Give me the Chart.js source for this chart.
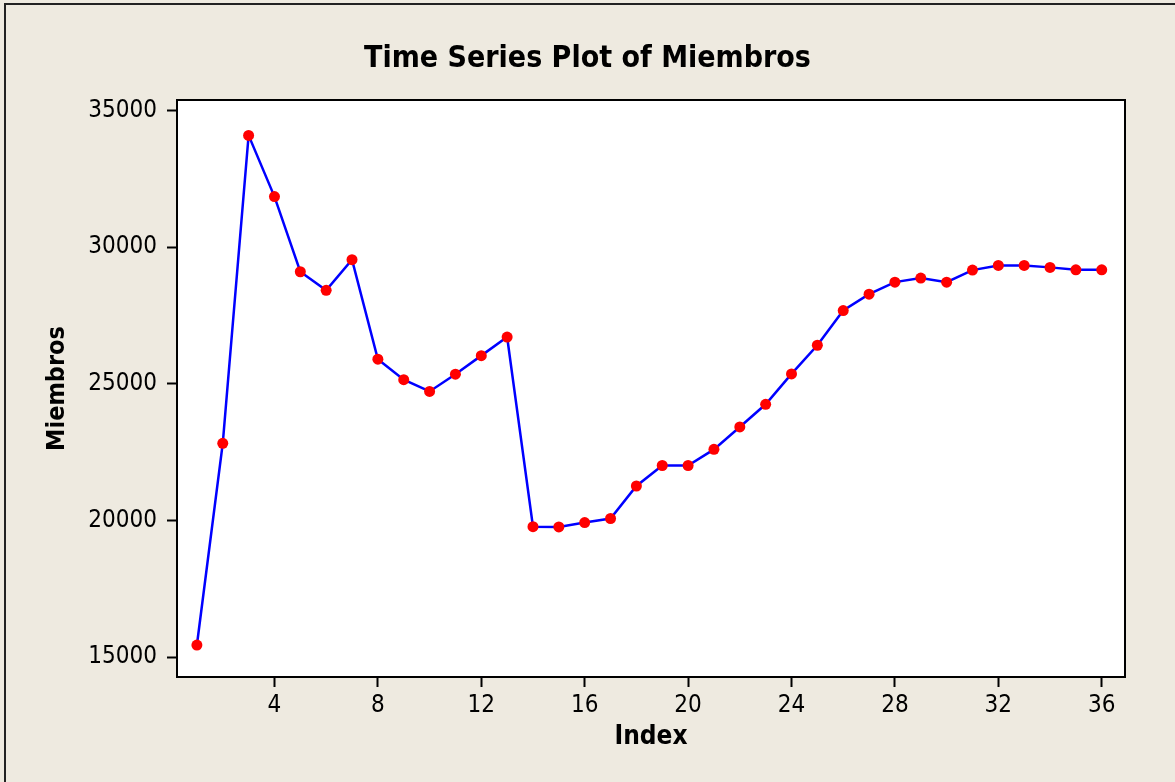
<!DOCTYPE html>
<html>
<head>
<meta charset="utf-8">
<title>Time Series Plot of Miembros</title>
<script src="https://cdn.jsdelivr.net/npm/chart.js@4/dist/chart.umd.min.js"></script>
<style>
  html, body { margin: 0; padding: 0; background: #eeeae0; }
  canvas { display: block; }
</style>
</head>
<body>
<canvas id="tsChart" width="1175" height="782"></canvas>
<script>
// data
const indexes = [1,2,3,4,5,6,7,8,9,10,11,12,13,14,15,16,17,18,19,20,21,22,23,24,25,26,27,28,29,30,31,32,33,34,35,36];
const miembros = [15440, 22820, 34090, 31850, 29100, 28420, 29540, 25900, 25150, 24720, 25350, 26030,
                  26710, 19770, 19760, 19920, 20070, 21260, 22010, 22010, 22600, 23420, 24250, 25360,
                  26410, 27680, 28280, 28720, 28870, 28720, 29160, 29330, 29330, 29260, 29170, 29170];
const xTicks = [4, 8, 12, 16, 20, 24, 28, 32, 36];
const yTicks = [15000, 20000, 25000, 30000, 35000];

const fam = '"DejaVu Sans Condensed", "DejaVu Sans", sans-serif';
const tickFont = { family: fam, size: 24 };

// gray page, outer frame, white plot area with black box
const framePlugin = {
  id: 'frame',
  beforeDraw(chart) {
    const c = chart.ctx, a = chart.chartArea;
    c.save();
    c.fillStyle = '#eeeae0';
    c.fillRect(0, 0, chart.width, chart.height);
    c.strokeStyle = '#222';
    c.lineWidth = 2;
    c.beginPath();
    c.moveTo(5, chart.height);
    c.lineTo(5, 4);
    c.lineTo(chart.width, 4);
    c.stroke();
    c.fillStyle = '#fff';
    c.fillRect(a.left, a.top, a.right - a.left, a.bottom - a.top);
    c.restore();
  },
  afterDraw(chart) {
    const c = chart.ctx, a = chart.chartArea;
    c.save();
    c.strokeStyle = '#000';
    c.lineWidth = 2;
    c.strokeRect(a.left, a.top, a.right - a.left, a.bottom - a.top);
    c.restore();
  }
};

new Chart(document.getElementById('tsChart'), {
  type: 'scatter',
  data: {
    datasets: [{
      label: 'Miembros',
      data: indexes.map((x, i) => ({ x: x, y: miembros[i] })),
      showLine: true,
      borderColor: '#0000ff',
      borderWidth: 2.5,
      pointBackgroundColor: '#ff0000',
      pointBorderColor: '#ff0000',
      pointBorderWidth: 0,
      pointRadius: 5.5,
      tension: 0
    }]
  },
  options: {
    responsive: false,
    animation: false,
    layout: { padding: 0 },
    plugins: {
      legend: { display: false },
      tooltip: { enabled: false },
      title: {
        display: true,
        text: 'Time Series Plot of Miembros',
        color: '#000',
        font: { family: fam, size: 30, weight: 'bold', lineHeight: 1.2 },
        padding: { top: 41, bottom: 23 }
      }
    },
    scales: {
      x: {
        type: 'linear',
        min: 0.23,
        max: 36.9,
        afterBuildTicks: s => { s.ticks = xTicks.map(v => ({ value: v })); },
        afterFit: s => { s.height = 105; },
        grid: { drawOnChartArea: false, drawTicks: true, tickLength: 10, tickWidth: 2, tickColor: '#000' },
        border: { display: false },
        ticks: { color: '#000', font: tickFont, padding: 4, maxRotation: 0 },
        title: { display: true, text: 'Index', color: '#000', font: { family: fam, size: 26, weight: 'bold' }, padding: { top: 0, bottom: 29 } }
      },
      y: {
        min: 14270,
        max: 35385,
        afterBuildTicks: s => { s.ticks = yTicks.map(v => ({ value: v })); },
        afterFit: s => { s.width = 177; },
        grid: { drawOnChartArea: false, drawTicks: true, tickLength: 10, tickWidth: 2, tickColor: '#000' },
        border: { display: false },
        ticks: { color: '#000', font: tickFont, padding: 10, callback: v => String(v) },
        title: { display: true, text: 'Miembros', color: '#000', font: { family: fam, size: 25, weight: 'bold' }, padding: { top: 42, bottom: 0 } }
      },
      // empty right-hand strip so the plot box ends where the reference does
      right: {
        position: 'right',
        display: true,
        afterFit: s => { s.width = 50; },
        grid: { display: false },
        border: { display: false },
        ticks: { display: false }
      }
    }
  },
  plugins: [framePlugin]
});
</script>
</body>
</html>
